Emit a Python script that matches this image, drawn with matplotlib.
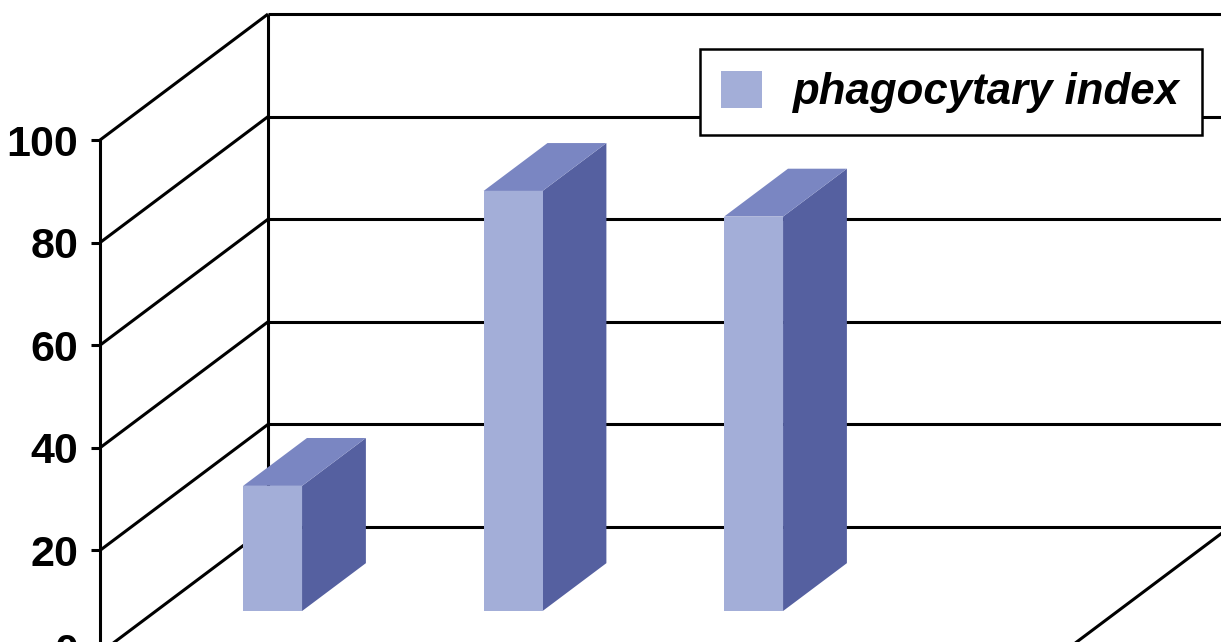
import matplotlib
matplotlib.use("Agg")
import matplotlib.pyplot as plt
from matplotlib.patches import Polygon, Rectangle

# ---- data ----
categories = ["1", "2", "3", "4"]          # category slots on the floor (labels cropped off)
values = [24.4, 81.9, 76.9]                # phagocytary index
series_label = "phagocytary index"
y_ticks = [0, 20, 40, 60, 80, 100]

# ---- style / layout ----
FRONT = "#a3aed8"
SIDE = "#5560a0"
TOP = "#7a86c2"
LW = 2.2
DX, DY = 0.6985, 24.56        # full-depth oblique offset (category units, value units)
D0, D1 = 0.333, 0.713         # bar depth range (fraction of floor depth)
BAR_W = 0.245
BAR_OFF = 0.485
n_cat = len(categories)
ymax = 100
TICK_LEN, TICK_PAD, TICK_FS = 6.5, 9, 31

plt.rcParams["font.family"] = ["Liberation Sans", "DejaVu Sans"]
fig = plt.figure(figsize=(12.21, 6.42), dpi=100)
ax = fig.add_axes([0, 0, 1, 1])

for s in ["top", "right", "bottom"]:
    ax.spines[s].set_visible(False)
ax.spines["left"].set_position(("data", 0))
ax.spines["left"].set_bounds(0, ymax)
ax.spines["left"].set_linewidth(LW)
ax.set_xticks([])
ax.set_yticks(y_ticks)
ax.set_yticklabels([str(t) for t in y_ticks])
ax.tick_params(axis="y", direction="out", length=TICK_LEN, width=LW, pad=TICK_PAD,
               labelsize=TICK_FS)
for lab in ax.get_yticklabels():
    lab.set_fontweight("bold")

line_kw = dict(color="black", lw=LW, solid_capstyle="butt", zorder=1)
# left side wall lines and back wall gridlines
for t in y_ticks:
    ax.plot([0, DX], [t, t + DY], **line_kw)
    ax.plot([DX, n_cat + DX], [t + DY, t + DY], **line_kw)
# back wall left edge
ax.plot([DX, DX], [DY, ymax + DY], **line_kw)
# floor edges
ax.plot([n_cat, n_cat + DX], [0, DY], **line_kw)
ax.plot([0, n_cat], [0, 0], **line_kw)
ax.plot([n_cat + DX, n_cat + DX], [DY, ymax + DY], **line_kw)

# 3D bars
for i, v in enumerate(values):
    xl = i + BAR_OFF - BAR_W / 2
    xr = i + BAR_OFF + BAR_W / 2
    ox0, oy0 = D0 * DX, D0 * DY
    ox1, oy1 = D1 * DX, D1 * DY
    side = Polygon([(xr + ox0, oy0), (xr + ox1, oy1), (xr + ox1, v + oy1), (xr + ox0, v + oy0)],
                   closed=True, facecolor=SIDE, edgecolor="none", zorder=3)
    top = Polygon([(xl + ox0, v + oy0), (xr + ox0, v + oy0), (xr + ox1, v + oy1), (xl + ox1, v + oy1)],
                  closed=True, facecolor=TOP, edgecolor="none", zorder=3)
    front = Rectangle((xl + ox0, oy0), BAR_W, v, facecolor=FRONT, edgecolor="none", zorder=4,
                      label=series_label if i == 0 else None)
    ax.add_patch(side)
    ax.add_patch(top)
    ax.add_patch(front)

# view limits set last (set_yticks would otherwise expand them)
ax.set_xlim(-0.4158, 4.661)
ax.set_ylim(2.14, 127.3)

# the lowest tick (0) lies just below the visible area; draw its label so it is cut by the edge
ax.annotate(str(y_ticks[0]), xy=(0, y_ticks[0]), xycoords="data",
            xytext=(-(TICK_LEN + TICK_PAD), 0), textcoords="offset points",
            ha="right", va="center", fontsize=TICK_FS, fontweight="bold",
            annotation_clip=False)

leg = ax.legend(loc="upper right", bbox_to_anchor=(1202 / 1221, 1 - 49 / 642),
                bbox_transform=fig.transFigure,
                prop={"family": "Liberation Sans", "weight": "bold", "style": "italic", "size": 31.5},
                frameon=True, fancybox=False, shadow=False, framealpha=1,
                edgecolor="black", handlelength=0.92, handleheight=0.92,
                handletextpad=0.72, borderpad=0.5, borderaxespad=0)
leg.get_frame().set_linewidth(1.8)
leg.set_zorder(10)

fig.savefig("out.png", dpi=100, facecolor="white")
